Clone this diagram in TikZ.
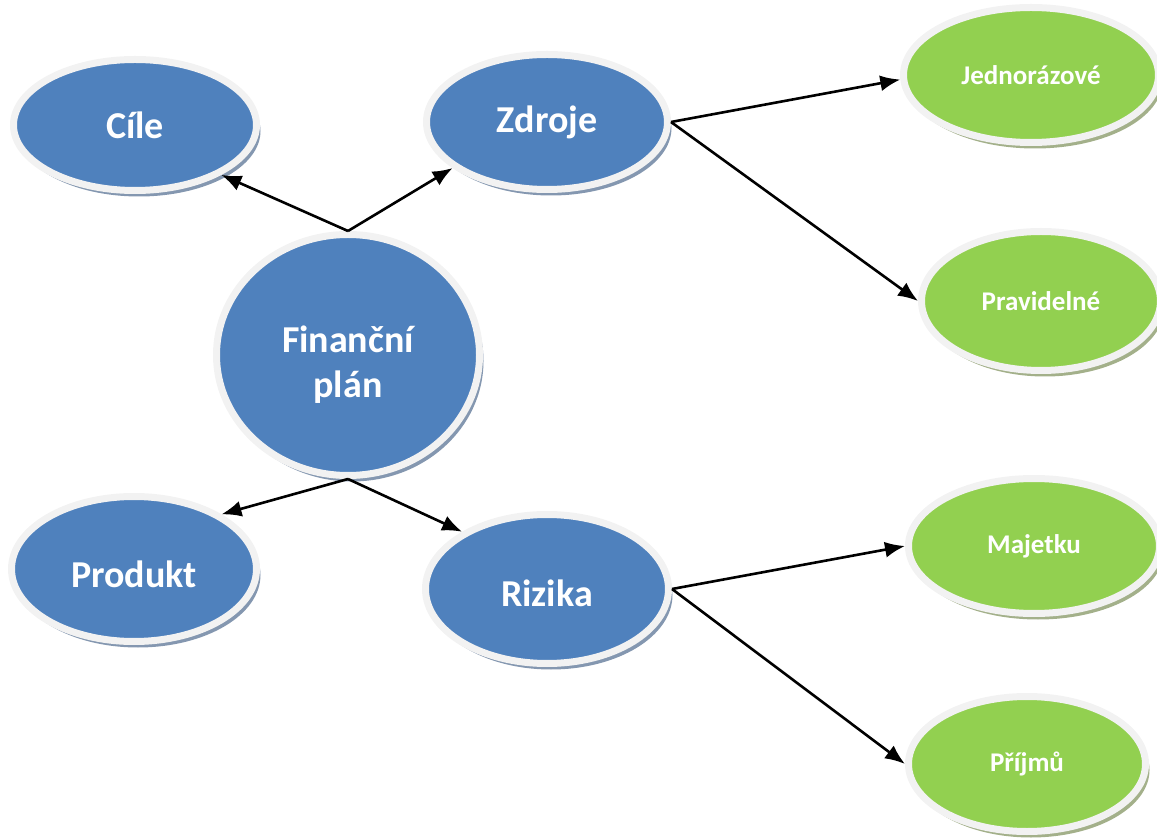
\documentclass[tikz,border=0pt]{standalone}
\usepackage{fontspec}
\setmainfont{Carlito}
\usetikzlibrary{shapes.geometric,shadows,arrows.meta}

\definecolor{modra}{HTML}{4F81BD}
\definecolor{zelena}{HTML}{92D050}
\definecolor{okraj}{HTML}{F2F2F2}
\definecolor{stinmodry}{HTML}{8497B0}
\definecolor{stinzeleny}{HTML}{A3B08A}

\begin{document}
\begin{tikzpicture}[x=.5pt,y=-.5pt,
bublina/.style={ellipse,draw=okraj,line width=3.5pt,text=white,inner sep=0pt},
hlavni/.style={bublina,fill=modra,align=center,font=\fontsize{19}{22.5}\selectfont\bfseries,
  drop shadow={shadow xshift=2pt,shadow yshift=-3pt,fill=stinmodry,opacity=1}},
vedlejsi/.style={bublina,fill=zelena,font=\fontsize{13.5}{15}\selectfont\bfseries,
  drop shadow={shadow xshift=2pt,shadow yshift=-3pt,fill=stinzeleny,opacity=1}},
sipka/.style={-{Latex[length=10pt,width=8pt]},line width=1.3pt}]
\useasboundingbox (0,0) rectangle (1157,839);

% prvni uroven
\node[hlavni,minimum width=131.5pt,minimum height=120.5pt] (financni) at (348,355) {\rule{0pt}{23pt}Finanční\\plán};
\node[hlavni,minimum width=121.5pt,minimum height=65.5pt] (cile) at (135,125) {Cíle};
\node[hlavni,minimum width=120.5pt,minimum height=67.5pt] (zdroje) at (547,122) {Zdroje};
\node[hlavni,minimum width=122.5pt,minimum height=72.5pt,text height=18.5pt,text depth=0pt] (produkt) at (134,569) {Produkt};
\node[hlavni,minimum width=121.5pt,minimum height=74.5pt,text height=17.5pt,text depth=0pt] (rizika) at (547,589) {Rizika};

% druha uroven
\node[vedlejsi,minimum width=127.5pt,minimum height=67.5pt] (jednorazove) at (1031,75) {Jednorázové};
\node[vedlejsi,minimum width=119.5pt,minimum height=69.5pt] (pravidelne) at (1041,301) {Pravidelné};
\node[vedlejsi,minimum width=125.5pt,minimum height=67.5pt] (majetku) at (1034,546) {Majetku};
\node[vedlejsi,minimum width=118.5pt,minimum height=67.5pt] (prijmu) at (1027,764) {Příjmů};

\draw[sipka] (financni.north) -- (cile.-30);
\draw[sipka] (financni.north) -- (zdroje.-154);
\draw[sipka] (financni.south) -- (produkt.32);
\draw[sipka] (financni.south) -- (rizika.146);

\draw[sipka] (zdroje.east) -- (jednorazove.182);
\draw[sipka] (zdroje.east) -- (pravidelne.west);
\draw[sipka] (rizika.east) -- (majetku.west);
\draw[sipka] (rizika.east) -- (prijmu.west);
\end{tikzpicture}
\end{document}
